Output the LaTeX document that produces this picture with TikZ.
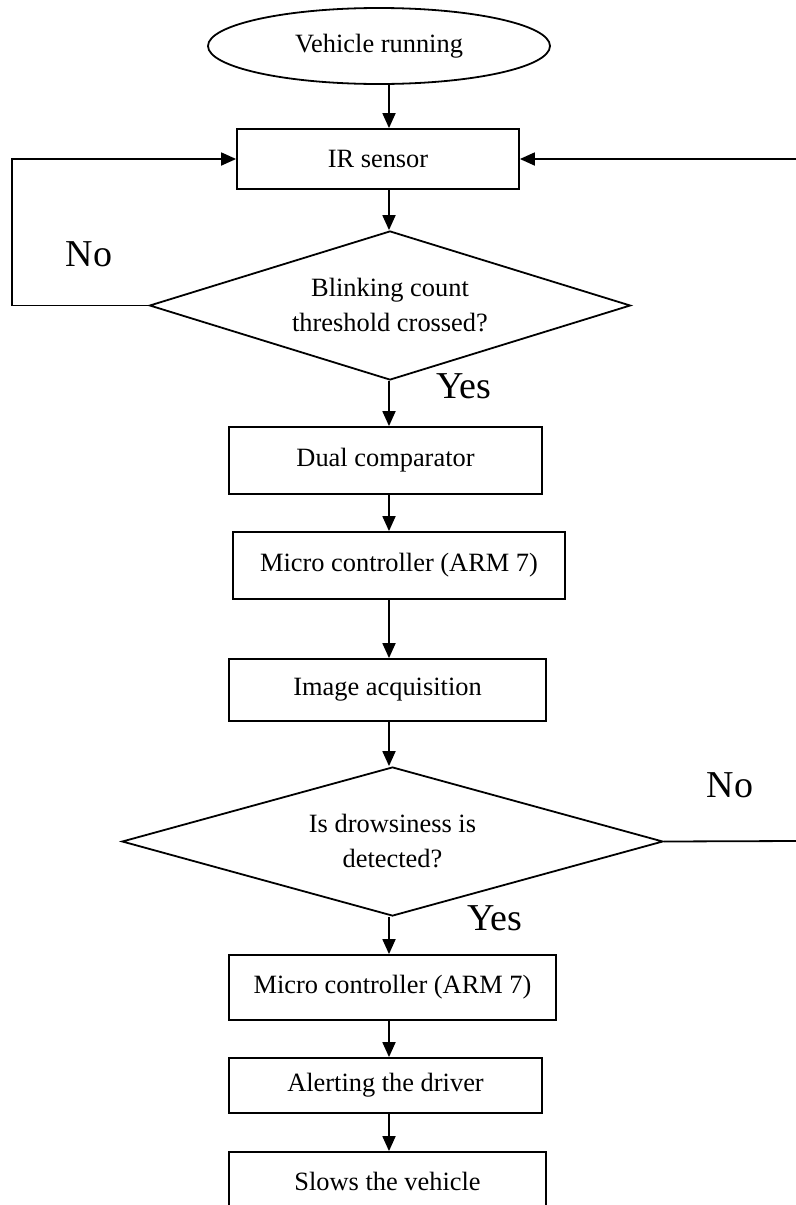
\documentclass[tikz,border=0pt]{standalone}
\usepackage{fontspec}
\setmainfont{Liberation Serif}
\usetikzlibrary{arrows.meta}
\usetikzlibrary{shapes.geometric}

\begin{document}
\begin{tikzpicture}[>={Triangle[length=7.5pt,width=6.5pt]},x=0.5pt,y=-0.5pt,line width=0.9pt,
  every node/.style={font=\fontsize{13.2}{17.5}\selectfont,align=center,inner sep=0pt},
  box/.style={rectangle,draw},
  oval/.style={ellipse,draw},
  decision/.style={diamond,draw,aspect=3.2},
  lbl/.style={font=\fontsize{19}{22}\selectfont}]

\useasboundingbox (0,0) rectangle (796,1205);

\coordinate (spine) at (389,0);
\coordinate (rtop) at (796,159);
\coordinate (rbot) at (796,841);

\node[oval,minimum width=171pt,minimum height=38pt] (start) at (379,46) {Vehicle running};
\node[box,minimum width=141pt,minimum height=30pt] (ir) at (378,159) {IR sensor};
\node[decision,minimum width=240.5pt,minimum height=74.5pt] (blink) at (390,305.5) {Blinking count\\threshold crossed?};
\node[box,minimum width=156.5pt,minimum height=33.5pt] (dual) at (385.5,460.5) {Dual comparator};
\node[box,minimum width=166pt,minimum height=33.5pt] (arm1) at (399,565.5) {Micro controller (ARM 7)};
\node[box,minimum width=158.5pt,minimum height=31pt] (image) at (387.5,690) {Image acquisition};
\node[decision,minimum width=270.5pt,minimum height=74.5pt] (drowsy) at (392.5,841.5) {Is drowsiness is\\detected?};
\node[box,minimum width=163.5pt,minimum height=32.5pt] (arm2) at (392.5,987.5) {Micro controller (ARM 7)};
\node[box,minimum width=156.5pt,minimum height=27.5pt] (alert) at (385.5,1085.5) {Alerting the driver};
\node[box,minimum width=158.5pt,minimum height=29pt] (slow) at (387.5,1181) {Slows the vehicle};

\node[lbl] (no1) at (89,254) {No};
\node[lbl] (yes1) at (464,386) {Yes};
\node[lbl] (no2) at (730,785) {No};
\node[lbl] (yes2) at (495,918) {Yes};

% main line
\draw[->] (start.south -| spine) -- (ir.north -| spine);
\draw[->] (ir.south -| spine) -- (blink.north -| spine);
\draw[->] (blink.south -| spine) -- (dual.north -| spine);
\draw[->] (dual.south -| spine) -- (arm1.north -| spine);
\draw[->] (arm1.south -| spine) -- (image.north -| spine);
\draw[->] (image.south -| spine) -- (drowsy.north -| spine);
\draw[->] (drowsy.south -| spine) -- (arm2.north -| spine);
\draw[->] (arm2.south -| spine) -- (alert.north -| spine);
\draw[->] (alert.south -| spine) -- (slow.north -| spine);

% loops back to the sensor
\draw[->] (blink.west) -- ++(-137,0) |- (ir.west);
\draw[->] (rtop) -- (ir.east);
\draw (drowsy.east) -- (rbot);
\end{tikzpicture}
\end{document}
